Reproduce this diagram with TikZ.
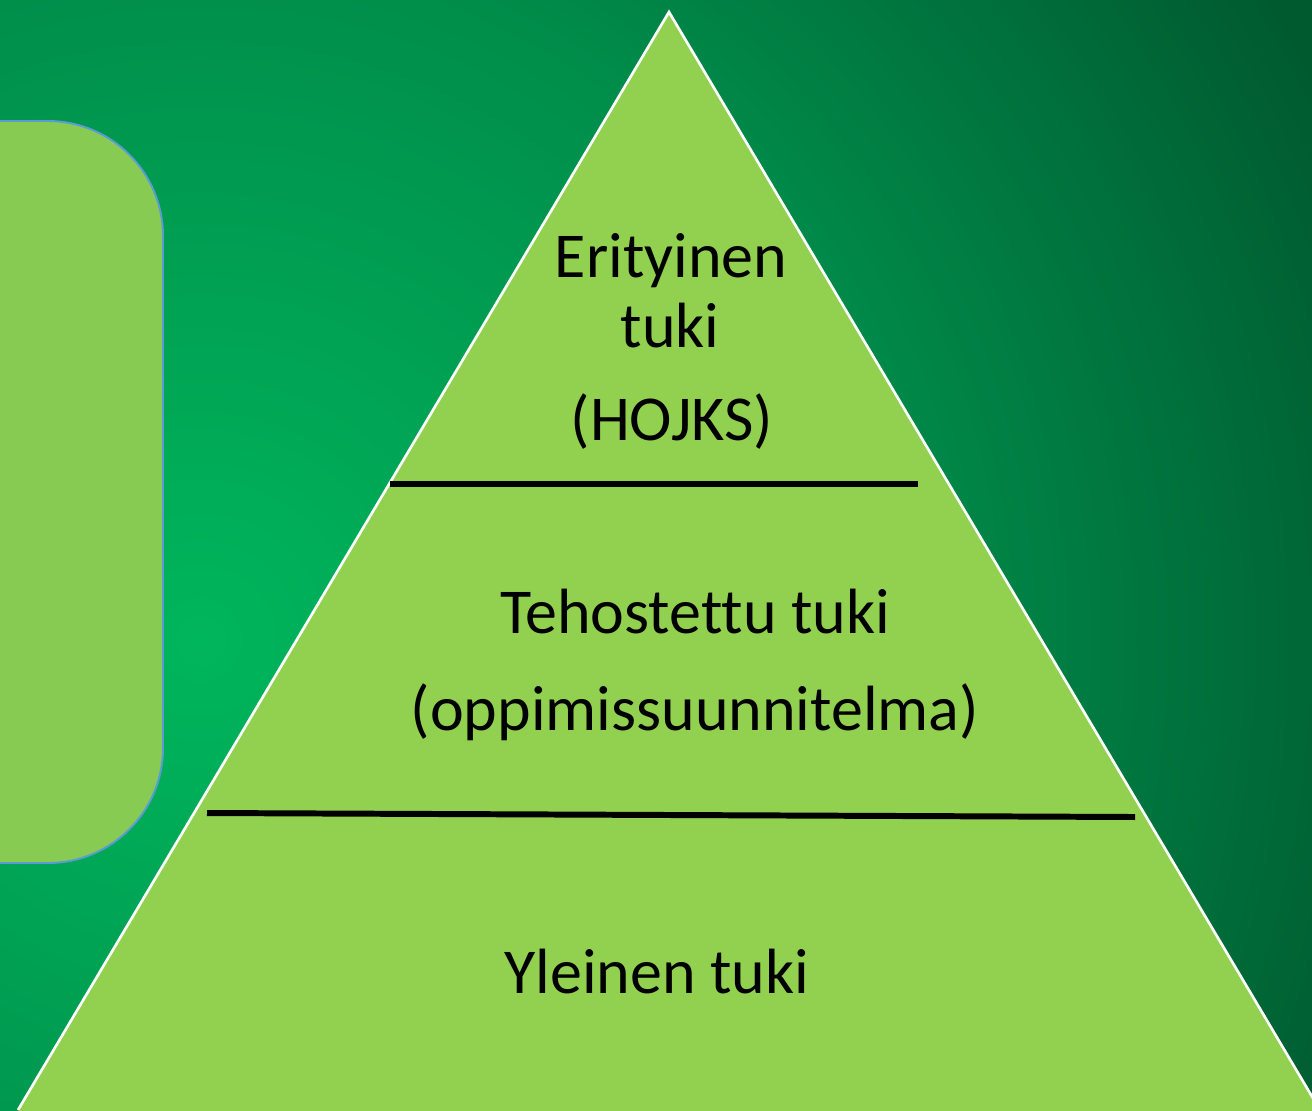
\documentclass[tikz,border=0pt]{standalone}
\usepackage{fontspec}
\setmainfont[Ligatures=NoCommon, RawFeature=-liga]{Carlito}
\usetikzlibrary{positioning, calc}

\definecolor{bgbright}{RGB}{0,182,92}
\definecolor{bgmid}{RGB}{0,142,75}
\definecolor{bgdark}{RGB}{0,90,48}
\definecolor{pyrgreen}{RGB}{146,208,80}
\definecolor{boxgreen}{RGB}{136,203,82}
\definecolor{boxblue}{RGB}{91,155,213}
\pgfdeclareradialshading{bgglow}{\pgfpoint{0bp}{0bp}}{color(0bp)=(bgbright); color(13bp)=(bgmid); color(24bp)=(bgdark); color(50bp)=(bgdark)}

\begin{document}
\begin{tikzpicture}[
  x=0.02cm, y=-0.02cm,
  lvl/.style={font=\fontsize{36.4}{44}\selectfont, anchor=base, inner sep=0pt},
  sep/.style={line width=3.4pt, black},
  pyr/.style={fill=pyrgreen, draw=white, line width=1.5pt, line join=miter},
  sidebox/.style={fill=boxgreen, draw=boxblue, line width=1.1pt, rounded corners=2.3cm}
]
  \useasboundingbox (0,0) rectangle (1312,1110);
  \begin{scope}
    \clip (0,0) rectangle (1312,1110);
    % background glow
    \shade[shading=bgglow] (200,640) circle[radius=1300];

    % side panel
    \coordinate (boxtl) at (-200,121);
    \coordinate (boxbr) at (163,863);
    \draw[sidebox] (boxtl) rectangle (boxbr);

    % pyramid
    \coordinate (apex) at (669,12);
    \coordinate (baseL) at (18,1110);
    \coordinate (baseR) at (1320,1110);
    \draw[pyr] (baseL) -- (apex) -- (baseR);
    \fill[pyrgreen] (baseL) -- (baseR) -- ++(0,10) -| cycle;

    % level separators
    \coordinate (sepAl) at (390,484);
    \coordinate (sepAr) at (918,484);
    \coordinate (sepBl) at (207,813);
    \coordinate (sepBr) at (1135,817);
    \draw[sep] (sepAl) -- (sepAr);
    \draw[sep] (sepBl) -- (sepBr);

    % level texts
    \node[lvl] (eri) at (671,277) {Erityinen};
    \node[lvl] (erituki) at (670,347) {tuki};
    \node[lvl] (hojks) at (672,440) {(HOJKS)};
    \node[lvl] (teho) at (695,633) {Tehostettu tuki};
    \node[lvl] (ops) at (695,730) {(oppimissuunnitelma)};
    \node[lvl] (yle) at (657,993) {Yleinen tuki};
  \end{scope}
\end{tikzpicture}
\end{document}
